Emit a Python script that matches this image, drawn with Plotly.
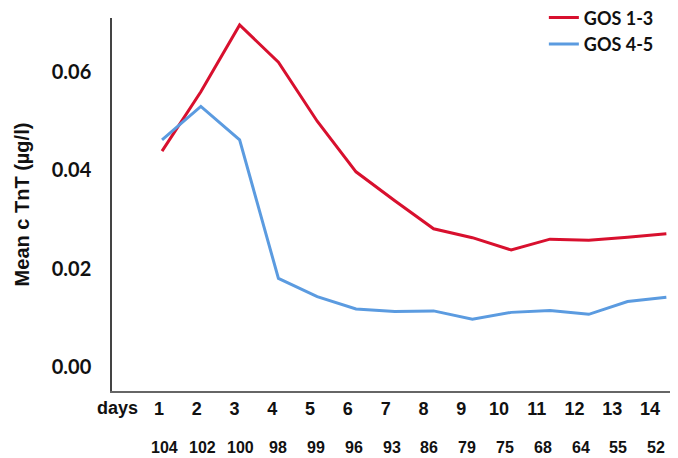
import plotly.graph_objects as go

days = [1, 2, 3, 4, 5, 6, 7, 8, 9, 10, 11, 12, 13, 14]
day_labels = [str(d) for d in days]
n_counts = ["104", "102", "100", "98", "99", "96", "93", "86", "79", "75", "68", "64", "55", "52"]
gos_1_3 = [0.0439, 0.0560, 0.0696, 0.0620, 0.0500, 0.0397, 0.0338, 0.0281, 0.0263, 0.0238, 0.0260, 0.0258, 0.0264, 0.0271]
gos_4_5 = [0.0462, 0.0530, 0.0462, 0.0180, 0.0143, 0.0118, 0.0113, 0.0114, 0.0097, 0.0111, 0.0115, 0.0107, 0.0133, 0.0142]
y_ticks = [0.0, 0.02, 0.04, 0.06]
y_tick_labels = ["0.00", "0.02", "0.04", "0.06"]

fig = go.Figure()
fig.add_trace(go.Scatter(x=days, y=gos_1_3, mode="lines", name="<b>GOS 1-3</b>",
                         line=dict(color="#D8102E", width=3)))
fig.add_trace(go.Scatter(x=days, y=gos_4_5, mode="lines", name="<b>GOS 4-5</b>",
                         line=dict(color="#5B9BE0", width=3)))

# page has an 8px body margin; reference pixel positions are page coordinates
plot_top, plot_bottom = 18, 391
def paper_y(py):
    return (plot_bottom - py) / (plot_bottom - plot_top)

row_font = dict(family="Liberation Sans", size=18, color="#111")
n_font = dict(family="Liberation Sans", size=16, color="#111")
annotations = [
    dict(x=-0.14, y=paper_y(408), xref="x", yref="paper", text="<b>days</b>", showarrow=False,
         xanchor="center", yanchor="middle", font=row_font),
    dict(x=-0.5, y=paper_y(448), xref="x", yref="paper", text="<b>n</b>", showarrow=False,
         xanchor="center", yanchor="middle", font=n_font),
]
for d, n in zip(days, n_counts):
    annotations.append(dict(x=d, y=paper_y(448), xref="x2", yref="paper", text=f"<b>{n}</b>",
                            showarrow=False, xanchor="center", yanchor="middle", xshift=6,
                            font=n_font))

fig.update_layout(
    width=670, height=450,
    margin=dict(l=104, r=0, t=10, b=67, autoexpand=False),
    paper_bgcolor="white", plot_bgcolor="white",
    showlegend=True,
    legend=dict(x=0.763, y=1.05, xanchor="left", yanchor="top",
                font=dict(family="Lato", size=18, color="#111"),
                bgcolor="rgba(0,0,0,0)", itemwidth=30, tracegroupgap=0),
    annotations=annotations,
    xaxis=dict(range=[-0.29, 14.3], tickvals=days, showticklabels=False,
               showgrid=False, zeroline=False, showline=True, linecolor="#666", linewidth=2,
               ticks=""),
    # label row for days (slightly tighter spacing than the data points, as in the source)
    xaxis2=dict(overlaying="x", side="bottom", anchor="y", range=[-0.244, 14.74],
                tickvals=days, ticktext=[f"<b>{t}</b>" for t in day_labels],
                showgrid=False, zeroline=False, showline=False, ticks="", ticklabelstandoff=5,
                tickfont=row_font),
    yaxis=dict(range=[-0.0049, 0.071], tickvals=y_ticks, ticktext=[f"<b>{t}</b>" for t in y_tick_labels],
               showgrid=False, zeroline=False, showline=True, linecolor="#444", linewidth=1.5,
               ticks="", ticklabelstandoff=15,
               tickfont=dict(family="Lato", size=20, color="#111"),
               title=dict(text="<b>Mean c TnT (µg/l)</b>", standoff=17,
                          font=dict(family="Liberation Sans", size=20, color="#111"))),
)
# invisible anchor trace so the label axis is drawn
fig.add_trace(go.Scatter(x=[days[0]], y=[None], xaxis="x2", yaxis="y", showlegend=False,
                         hoverinfo="skip", mode="lines"))

fig.write_html("out.html")
